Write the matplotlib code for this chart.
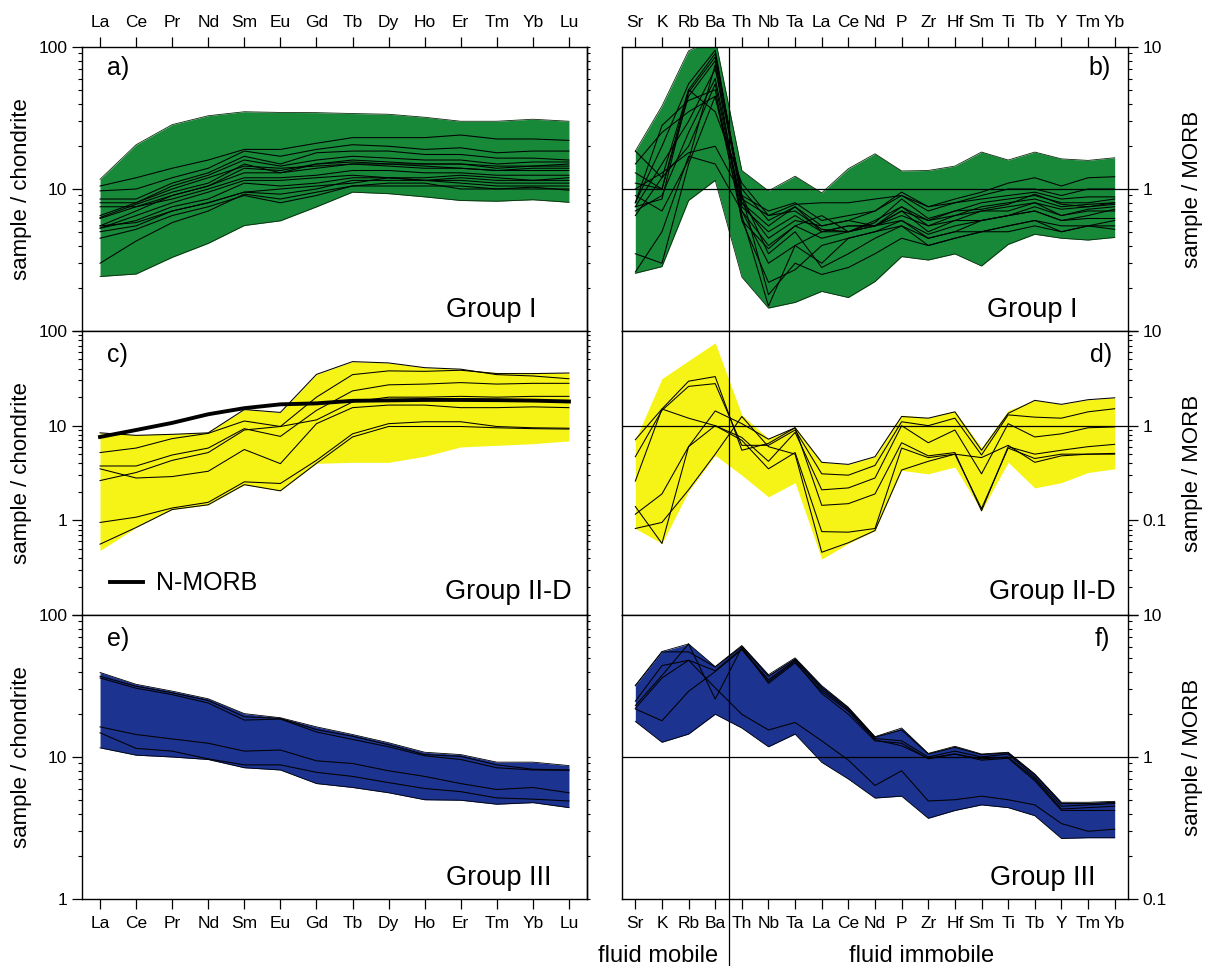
import numpy as np
import matplotlib
matplotlib.use('Agg')
import matplotlib.pyplot as plt
from matplotlib.ticker import LogLocator, NullFormatter

plt.rcParams['font.family'] = ['Liberation Sans', 'DejaVu Sans']

ree = ['La', 'Ce', 'Pr', 'Nd', 'Sm', 'Eu', 'Gd', 'Tb', 'Dy', 'Ho', 'Er', 'Tm', 'Yb', 'Lu']
spider = ['Sr', 'K', 'Rb', 'Ba', 'Th', 'Nb', 'Ta', 'La', 'Ce', 'Nd', 'P', 'Zr', 'Hf', 'Sm', 'Ti', 'Tb', 'Y', 'Tm', 'Yb']

green = '#178938'
yellow = '#f6f316'
blue = '#1c3390'

# ---------------- Group I, chondrite normalised (a)
a_hi = [11.7, 20.5, 28.4, 32.8, 35, 34.6, 34.5, 34, 33.6, 32, 30, 30, 31, 30]
a_lo = [2.42, 2.52, 3.3, 4.14, 5.53, 5.97, 7.48, 9.5, 9.27, 8.8, 8.3, 8.2, 8.4, 8.06]
a_lines = [
    [10.5, 12, 14, 16, 19, 19, 21, 23, 23, 23, 24, 22.5, 22.5, 22],
    [9.7, 10, 12, 14, 18.5, 17, 19, 20.5, 20, 19, 19.5, 18, 18.5, 18.5],
    [8.5, 8.5, 11, 13, 17, 15, 18, 18.5, 18.5, 17.5, 17.5, 16.5, 16.5, 16],
    [6.5, 8, 10.5, 12.5, 16, 14.5, 16, 17, 16.5, 16, 16, 15, 15.5, 15.5],
    [6.3, 7.8, 9.5, 11, 15, 13, 15, 16, 15.5, 15, 15, 14, 14.5, 14.5],
    [6.2, 7.5, 9, 10.5, 14, 13.5, 15, 15.5, 15, 14.5, 14, 13.5, 14, 14],
    [8.0, 8, 10, 12, 14.5, 14, 14.5, 15, 15, 15, 15, 14.5, 14.5, 15],
    [5.5, 7, 9, 10.5, 13, 13, 14, 15, 14.5, 14, 14, 13.5, 13.5, 13.5],
    [7.5, 7.5, 8.5, 10, 12, 12, 12.5, 13.5, 13.5, 13, 13, 12.5, 12.5, 12.5],
    [5.3, 6.5, 8, 9.5, 11.5, 11.5, 12, 12.5, 12, 12, 12.5, 12, 11.5, 12],
    [5.3, 6, 7.5, 8.5, 11, 10.5, 11, 12, 12, 11.5, 11.5, 11, 11, 11],
    [5.0, 5.5, 7, 8, 9.5, 10, 10.5, 11, 12, 11.5, 11, 10.5, 10.5, 10.5],
    [4.5, 5.2, 6.5, 7.5, 9.0, 8, 9, 10.5, 11, 11, 10, 10, 10, 10],
    [3.0, 4.3, 5.8, 7, 9.2, 8.5, 9.5, 10.5, 10.5, 10.5, 10.5, 10, 10.3, 9.8],
    [5.5, 5.8, 7, 8, 9.5, 9.2, 10, 11.5, 11.5, 11.5, 12, 11.5, 11.5, 11.5],
]

# ---------------- Group I, MORB normalised (b)
b_hi = [1.85, 3.84, 9.4, 11.5, 1.35, 0.97, 1.23, 0.94, 1.39, 1.77, 1.34, 1.35, 1.45, 1.82, 1.6, 1.82, 1.63, 1.59, 1.66]
b_lo = [0.255, 0.284, 0.83, 1.15, 0.24, 0.145, 0.159, 0.19, 0.172, 0.223, 0.334, 0.316, 0.349, 0.287, 0.407, 0.48, 0.45, 0.437, 0.456]
b_lines = [
    [1.85, 1.2, 5.0, 9.0, 0.9, 0.7, 0.8, 0.6, 0.65, 0.7, 0.95, 0.75, 0.85, 0.95, 1.1, 1.2, 1.05, 1.2, 1.22],
    [1.1, 1.0, 4.5, 8.0, 0.8, 0.55, 0.75, 0.55, 0.6, 0.7, 0.9, 0.7, 0.8, 0.9, 1.0, 1.0, 0.9, 1.0, 1.0],
    [0.8, 2.0, 5.5, 9.5, 0.85, 0.65, 0.78, 0.8, 0.8, 0.85, 0.9, 0.75, 0.8, 0.85, 0.9, 0.95, 0.85, 0.88, 0.88],
    [0.75, 1.5, 3.0, 7.0, 1.0, 0.6, 0.75, 0.5, 0.55, 0.55, 0.75, 0.6, 0.7, 0.8, 0.85, 0.9, 0.8, 0.8, 0.85],
    [0.7, 0.9, 2.5, 6.0, 0.75, 0.5, 0.65, 0.5, 0.5, 0.55, 0.7, 0.6, 0.65, 0.75, 0.8, 0.85, 0.75, 0.78, 0.8],
    [0.65, 1.2, 2.0, 5.5, 0.7, 0.4, 0.55, 0.45, 0.5, 0.55, 0.65, 0.55, 0.6, 0.7, 0.7, 0.8, 0.72, 0.75, 0.78],
    [1.0, 1.3, 1.8, 2.0, 0.9, 0.35, 0.5, 0.28, 0.35, 0.45, 0.55, 0.45, 0.5, 0.6, 0.65, 0.75, 0.65, 0.72, 0.75],
    [0.35, 0.3, 1.5, 4.5, 0.8, 0.45, 0.6, 0.55, 0.6, 0.55, 0.7, 0.5, 0.6, 0.6, 0.65, 0.7, 0.6, 0.62, 0.62],
    [0.26, 0.5, 1.7, 1.5, 0.7, 0.3, 0.4, 0.3, 0.45, 0.5, 0.55, 0.4, 0.45, 0.5, 0.55, 0.6, 0.5, 0.55, 0.6],
    [0.9, 0.7, 1.6, 7.5, 0.6, 0.22, 0.27, 0.4, 0.45, 0.5, 0.6, 0.45, 0.5, 0.5, 0.55, 0.6, 0.55, 0.55, 0.55],
    [0.75, 0.85, 4.8, 8.5, 0.9, 0.18, 0.3, 0.25, 0.28, 0.35, 0.45, 0.4, 0.45, 0.5, 0.5, 0.55, 0.5, 0.55, 0.52],
    [1.5, 2.5, 3.5, 4.5, 0.65, 0.15, 0.4, 0.5, 0.55, 0.55, 0.6, 0.48, 0.55, 0.6, 0.65, 0.7, 0.6, 0.65, 0.72],
    [0.8, 2.8, 4.2, 5.0, 0.6, 0.38, 0.55, 0.65, 0.5, 0.6, 0.75, 0.55, 0.65, 0.7, 0.75, 0.8, 0.65, 0.7, 0.7],
    [1.3, 1.0, 5.0, 3.5, 1.1, 0.65, 0.7, 0.52, 0.5, 0.58, 0.85, 0.62, 0.7, 0.72, 0.78, 0.92, 0.78, 0.75, 0.8],
]

# ---------------- Group II-D, chondrite normalised (c)
c_hi = [8.4, 8.0, 8.2, 8.5, 14.8, 13.8, 34.8, 47.5, 46, 41, 39.5, 36.5, 36.5, 36]
c_lo = [0.48, 0.84, 1.3, 1.46, 2.38, 2.05, 4.0, 4.1, 4.1, 4.75, 5.96, 6.2, 6.45, 6.9]
c_lines = [
    [8.4, 7.9, 8.1, 8.4, 14.8, 13.8, 34.8, 47.5, 46, 41, 39.5, 34.6, 33.5, 31.3],
    [5.2, 5.8, 7.3, 8.3, 11.2, 9.8, 20, 34.6, 37.9, 37.5, 38.5, 35.5, 35.5, 36],
    [3.75, 3.75, 4.9, 5.8, 9.3, 7.7, 14.5, 23.3, 27, 27.5, 28.5, 27.5, 28, 28],
    [2.63, 3.2, 4.3, 5.2, 9.0, 9.8, 11.5, 17.8, 20, 20, 20.4, 20, 20.4, 20.4],
    [3.5, 2.8, 2.9, 3.3, 5.6, 3.97, 10.5, 15.5, 16.5, 16.5, 15.5, 15.5, 15.8, 15.5],
    [0.95, 1.08, 1.35, 1.55, 2.55, 2.45, 4.3, 8.2, 10.5, 11, 11, 9.8, 9.5, 9.4],
    [0.56, 0.84, 1.3, 1.46, 2.38, 2.05, 4.0, 7.6, 9.8, 9.8, 9.8, 9.5, 9.3, 9.2],
]
nmorb = [7.6, 9.0, 10.7, 13.2, 15.3, 16.8, 17.2, 18.3, 18.5, 18.7, 18.7, 18.6, 18.4, 18.0]

# ---------------- Group II-D, MORB normalised (d)
d_hi = [0.71, 3.14, 4.86, 7.5, 1.3, 0.73, 0.97, 0.41, 0.39, 0.47, 1.29, 1.21, 1.43, 0.585, 1.45, 1.85, 1.68, 1.88, 1.97]
d_lo = [0.082, 0.057, 0.204, 0.486, 0.3, 0.177, 0.25, 0.039, 0.057, 0.078, 0.337, 0.31, 0.366, 0.126, 0.41, 0.22, 0.25, 0.32, 0.35]
d_lines = [
    [0.71, 1.5, 2.95, 3.3, 0.55, 0.65, 0.95, 0.41, 0.39, 0.47, 1.25, 1.2, 1.4, 0.55, 1.35, 1.85, 1.68, 1.88, 1.97],
    [0.47, 1.45, 2.6, 2.78, 0.62, 0.62, 0.9, 0.31, 0.30, 0.38, 1.1, 1.0, 1.2, 0.49, 1.3, 1.23, 1.2, 1.4, 1.51],
    [0.26, 1.5, 1.2, 1.0, 0.75, 0.42, 0.85, 0.21, 0.22, 0.28, 1.0, 0.66, 0.9, 0.31, 1.05, 0.76, 0.82, 0.95, 0.97],
    [0.116, 0.19, 0.6, 1.43, 1.05, 0.72, 0.95, 0.144, 0.15, 0.19, 0.66, 0.48, 0.52, 0.126, 0.6, 0.5, 0.55, 0.6, 0.635],
    [0.14, 0.057, 0.6, 1.0, 0.7, 0.35, 0.52, 0.076, 0.075, 0.082, 0.58, 0.46, 0.5, 0.133, 0.58, 0.45, 0.5, 0.5, 0.51],
    [0.082, 0.095, 0.21, 0.5, 1.25, 0.6, 0.5, 0.046, 0.058, 0.078, 0.34, 0.42, 0.5, 0.46, 0.62, 0.41, 0.48, 0.5, 0.5],
]

# ---------------- Group III, chondrite normalised (e)
e_hi = [39.4, 32.5, 29.1, 25.7, 20.2, 18.9, 16.3, 14.4, 12.6, 10.8, 10.4, 9.2, 9.2, 8.7]
e_lo = [11.6, 10.3, 10.0, 9.6, 8.4, 8.1, 6.5, 6.1, 5.6, 5.0, 4.96, 4.65, 4.77, 4.4]
e_lines = [
    [37, 31.5, 28.3, 25, 19.2, 18.7, 15.6, 14, 12.2, 10.4, 10.1, 8.8, 8.2, 8.1],
    [36, 30.5, 27.5, 24, 18.2, 18.5, 15, 13.3, 11.8, 10.2, 9.6, 8.4, 8.1, 8.06],
    [16.3, 14.4, 13.4, 12.5, 11, 11.2, 9.4, 9.0, 8.0, 7.3, 6.5, 5.9, 6.1, 5.6],
    [14.8, 11.5, 11, 9.7, 8.8, 8.8, 7.8, 7.3, 6.6, 6.0, 5.7, 5.15, 5.05, 4.9],
]

# ---------------- Group III, MORB normalised (f)
f_hi = [3.18, 5.53, 6.26, 4.33, 6.1, 3.8, 4.99, 3.18, 2.24, 1.39, 1.6, 1.06, 1.19, 1.05, 1.08, 0.76, 0.48, 0.48, 0.487]
f_lo = [1.78, 1.27, 1.45, 2.0, 1.6, 1.18, 1.45, 0.917, 0.70, 0.514, 0.53, 0.37, 0.42, 0.46, 0.44, 0.386, 0.267, 0.27, 0.27]
f_lines = [
    [3.18, 5.5, 5.5, 4.3, 6.0, 3.7, 4.9, 3.1, 2.2, 1.38, 1.55, 1.05, 1.17, 1.04, 1.07, 0.75, 0.47, 0.47, 0.48],
    [2.47, 4.4, 4.8, 4.05, 5.8, 3.5, 4.8, 3.0, 2.15, 1.35, 1.3, 1.0, 1.1, 1.0, 1.05, 0.72, 0.45, 0.46, 0.47],
    [2.3, 3.75, 6.26, 2.56, 5.9, 3.3, 4.6, 2.9, 2.1, 1.32, 1.2, 0.98, 1.05, 0.97, 1.0, 0.7, 0.43, 0.44, 0.45],
    [2.18, 1.8, 2.9, 4.0, 5.7, 3.4, 4.7, 2.8, 2.0, 1.3, 1.25, 0.97, 1.05, 0.95, 0.98, 0.68, 0.42, 0.42, 0.42],
    [2.2, 3.6, 4.8, 3.07, 2.0, 1.55, 1.75, 1.3, 0.95, 0.63, 0.8, 0.49, 0.5, 0.53, 0.5, 0.46, 0.34, 0.3, 0.31],
]

W, H = 1207, 966
fig = plt.figure(figsize=(W / 100, H / 100), dpi=100)

rows_top = [47, 331, 615]
row_h = 284
left_x, left_w = 82, 505
right_x, right_w = 622, 506


def make_ax(px, pw, ptop):
    return fig.add_axes([px / W, 1 - (ptop + row_h) / H, pw / W, row_h / H])


def style(ax, ylim, yticks, ylabels, row, side):
    ax.set_yscale('log')
    ax.set_ylim(*ylim)
    ax.set_yticks(yticks, ylabels)
    ax.yaxis.set_minor_locator(LogLocator(base=10, subs=np.arange(2, 10)))
    ax.yaxis.set_minor_formatter(NullFormatter())
    for s in ax.spines.values():
        s.set_linewidth(1.0)
    ax.tick_params(axis='both', which='major', labelsize=12.5, length=7, width=0.9, direction='out')
    ax.tick_params(axis='y', which='minor', length=3, width=0.8, direction='out')
    if side == 'left':
        ax.tick_params(axis='y', which='both', left=True, right=False)
        ax.set_ylabel('sample / chondrite', fontsize=16)
        ax.yaxis.set_label_coords(-0.099, 0.5)
        sec = ax.secondary_yaxis('right')
        sec.tick_params(which='both', length=2, width=0.8, labelright=False)
        sec.yaxis.set_minor_formatter(NullFormatter())
        sec.spines['right'].set_linewidth(1.0)
    else:
        ax.yaxis.tick_right()
        ax.yaxis.set_label_position('right')
        ax.tick_params(axis='y', which='both', left=False, right=True)
        ax.set_ylabel('sample / MORB', fontsize=16)
        ax.yaxis.set_label_coords(1.107, 0.5)
    if row == 0:
        ax.xaxis.tick_top()
        ax.tick_params(axis='x', top=True, bottom=False, labeltop=True, labelbottom=False, pad=5)
    elif row == 2:
        ax.tick_params(axis='x', top=False, bottom=True, labelbottom=True, pad=5)
    else:
        ax.tick_params(axis='x', top=False, bottom=False, labelbottom=False)


def draw(ax, cats, lo, hi, lines, color, edge):
    x = np.arange(len(cats))
    ax.fill_between(x, lo, hi, color=color, lw=0, zorder=1)
    if edge:
        ax.plot(x, lo, color='#102a10' if color == green else 'k', lw=0.6, zorder=2)
        ax.plot(x, hi, color='#102a10' if color == green else 'k', lw=0.6, zorder=2)
    for ln in lines:
        ax.plot(x, ln, color='k', lw=0.75, zorder=3)
    ax.set_xticks(x, cats)
    ax.set_xlim(-0.5, len(cats) - 0.5)


panels = [
    (left_x, left_w, 0, ree, a_lo, a_hi, a_lines, green, True, (1, 100), [1, 10, 100], ['', '10', '100'], 'left', 'a)', 'Group I'),
    (right_x, right_w, 0, spider, b_lo, b_hi, b_lines, green, True, (0.1, 10), [0.1, 1, 10], ['', '1', '10'], 'right', 'b)', 'Group I'),
    (left_x, left_w, 1, ree, c_lo, c_hi, c_lines, yellow, False, (0.1, 100), [0.1, 1, 10, 100], ['', '1', '10', '100'], 'left', 'c)', 'Group II-D'),
    (right_x, right_w, 1, spider, d_lo, d_hi, d_lines, yellow, False, (0.01, 10), [0.01, 0.1, 1, 10], ['', '0.1', '1', '10'], 'right', 'd)', 'Group II-D'),
    (left_x, left_w, 2, ree, e_lo, e_hi, e_lines, blue, True, (1, 100), [1, 10, 100], ['1', '10', '100'], 'left', 'e)', 'Group III'),
    (right_x, right_w, 2, spider, f_lo, f_hi, f_lines, blue, True, (0.1, 10), [0.1, 1, 10], ['0.1', '1', '10'], 'right', 'f)', 'Group III'),
]

label_pos = {
    'a)': (0.05, 0.925, 'left'), 'c)': (0.05, 0.915, 'left'), 'e)': (0.05, 0.915, 'left'),
    'b)': (0.965, 0.925, 'right'), 'd)': (0.968, 0.915, 'right'), 'f)': (0.965, 0.915, 'right'),
}
group_pos = {
    'a)': (0.90, 0.075), 'b)': (0.90, 0.075),
    'c)': (0.97, 0.08), 'd)': (0.975, 0.08),
    'e)': (0.93, 0.075), 'f)': (0.935, 0.075),
}

axes = {}
for (px, pw, row, cats, lo, hi, lines, color, edge, ylim, yt, yl, side, tag, grp) in panels:
    ax = make_ax(px, pw, rows_top[row])
    draw(ax, cats, lo, hi, lines, color, edge)
    style(ax, ylim, yt, yl, row, side)
    lx, ly, ha = label_pos[tag]
    ax.text(lx, ly, tag, transform=ax.transAxes, fontsize=18, ha=ha, va='center')
    gx, gy = group_pos[tag]
    ax.text(gx, gy, grp, transform=ax.transAxes, fontsize=19.5, ha='right', va='center')
    if side == 'right':
        ax.axhline(1, color='k', lw=0.9, zorder=4)
        if row == 2:
            ax.axvline(3.5, ymin=-0.236, ymax=1, color='k', lw=0.9, zorder=4, clip_on=False)
        else:
            ax.axvline(3.5, color='k', lw=0.9, zorder=4)
    axes[tag] = ax

# N-MORB reference in panel c
axc = axes['c)']
axc.plot(np.arange(len(ree)), nmorb, color='k', lw=2.8, zorder=5, label='N-MORB')
axc.legend(loc='lower left', bbox_to_anchor=(0.01, -0.01), frameon=False, fontsize=18,
           handlelength=1.35, handletextpad=0.5)

fig.text(718 / W, 1 - 962 / H, 'fluid mobile', fontsize=17, ha='right', va='baseline')
fig.text(922 / W, 1 - 962 / H, 'fluid immobile', fontsize=17, ha='center', va='baseline')

fig.savefig('out.png', dpi=100)
